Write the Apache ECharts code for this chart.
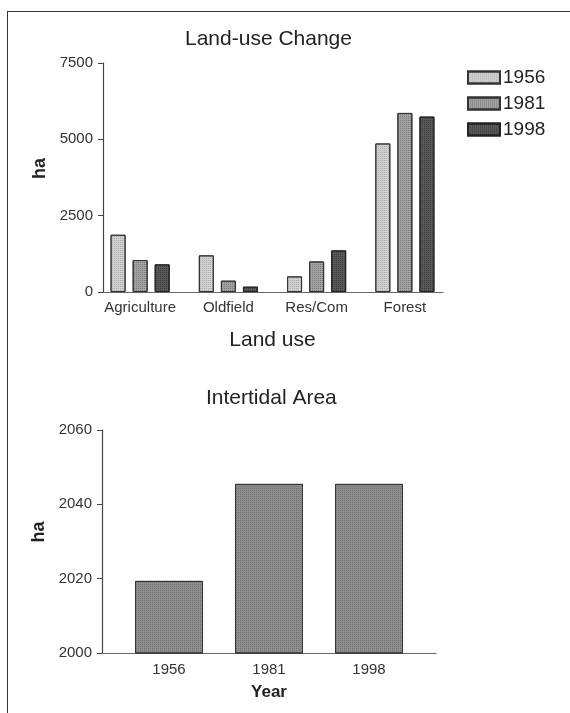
<!DOCTYPE html>
<html>
<head>
<meta charset="utf-8">
<script src="https://cdn.jsdelivr.net/npm/echarts@6/dist/echarts.min.js"></script>
<style>
html,body{margin:0;padding:0;background:#fff;}
#frame{position:absolute;left:7px;top:11px;right:-5px;bottom:-5px;border-left:1.5px solid #333;border-top:1.5px solid #333;}
#chart{position:absolute;left:0;top:0;width:570px;height:713px;}
</style>
</head>
<body>
<div id="frame"></div>
<div id="chart"></div>
<script>
// Land-use change (ha)
const landCategories = ['Agriculture', 'Oldfield', 'Res/Com', 'Forest'];
const landYears = ['1956', '1981', '1998'];
const land1956 = [1875, 1200, 512, 4865];
const land1981 = [1047, 370, 1000, 5865];
const land1998 = [905, 175, 1363, 5745];
const landTicks = [0, 2500, 5000, 7500];

// Intertidal area (ha)
const tidalYears = ['1956', '1981', '1998'];
const tidalValues = [2019.4, 2045.5, 2045.5];
const tidalTicks = [2000, 2020, 2040, 2060];

const FONT = 'Liberation Sans, Arial, sans-serif';
const fills = ['#d0d0d0', '#a2a2a2', '#585858'];
const decalFor = (c) => ({symbol: 'rect', symbolSize: 1, dashArrayX: [1, 1], dashArrayY: [1, 1], color: c});
const decals = ['rgba(110,110,110,0.35)', 'rgba(50,50,50,0.35)', 'rgba(10,10,10,0.35)'];

const chart = echarts.init(document.getElementById('chart'), null, {renderer: 'canvas'});

const labelStyle = {fontFamily: FONT, fontSize: 15, color: '#333'};
const plain = (v) => String(v);

const option = {
  animation: false,
  backgroundColor: 'transparent',
  title: [
    {text: 'Land-use Change', left: 185, top: 29, padding: 0,
     textStyle: {fontFamily: FONT, fontSize: 21, fontWeight: 'normal', color: '#222'}},
    {text: 'Intertidal Area', left: 206, top: 388, padding: 0,
     textStyle: {fontFamily: FONT, fontSize: 21, fontWeight: 'normal', color: '#222'}}
  ],
  legend: {
    data: landYears, orient: 'vertical', left: 467, top: 68, padding: 0,
    itemWidth: 32, itemHeight: 12, itemGap: 7,
    textStyle: {fontFamily: FONT, fontSize: 19, color: '#222', padding: [0, 0, 0, -2]},
    icon: 'rect'
  },
  grid: [
    {left: 103, top: 63, width: 340, height: 229},
    {left: 96, top: 63, width: 353, height: 229},
    {left: 102, top: 430, width: 334, height: 223},
    {left: 119, top: 430, width: 300, height: 223}
  ],
  xAxis: [
    {gridIndex: 0, type: 'category', data: landCategories, axisLine: {lineStyle: {color: '#666', width: 1.2}},
     axisTick: {show: false}, axisLabel: {show: false}},
    {gridIndex: 1, type: 'category', data: landCategories, axisLine: {show: false}, axisTick: {show: false},
     axisLabel: Object.assign({margin: 8, interval: 0}, labelStyle),
     name: 'Land use', nameLocation: 'middle', nameGap: 38,
     nameTextStyle: {fontFamily: FONT, fontSize: 21, color: '#222'}},
    {gridIndex: 2, type: 'category', data: tidalYears, axisLine: {lineStyle: {color: '#666', width: 1.2}},
     axisTick: {show: false}, axisLabel: {show: false}},
    {gridIndex: 3, type: 'category', data: tidalYears, axisLine: {show: false}, axisTick: {show: false},
     axisLabel: Object.assign({margin: 9}, labelStyle),
     name: 'Year', nameLocation: 'middle', nameGap: 31,
     nameTextStyle: {fontFamily: FONT, fontSize: 17, fontWeight: 'bold', color: '#222'}}
  ],
  yAxis: [
    {gridIndex: 0, type: 'value', min: landTicks[0], max: landTicks[landTicks.length - 1], interval: 2500,
     splitLine: {show: false}, axisLine: {show: true, lineStyle: {color: '#444', width: 1.2}},
     axisTick: {show: true, length: 5, lineStyle: {color: '#444'}},
     axisLabel: Object.assign({margin: 10, formatter: plain}, labelStyle),
     name: 'ha', nameLocation: 'middle', nameGap: 47,
     nameTextStyle: {fontFamily: FONT, fontSize: 18, fontWeight: 'bold', color: '#222', padding: [0, 0, 0, 18]}},
    {gridIndex: 1, type: 'value', min: landTicks[0], max: landTicks[landTicks.length - 1], show: false, splitLine: {show: false}},
    {gridIndex: 2, type: 'value', min: tidalTicks[0], max: tidalTicks[tidalTicks.length - 1], interval: 20,
     splitLine: {show: false}, axisLine: {show: true, lineStyle: {color: '#444', width: 1.2}},
     axisTick: {show: true, length: 5, lineStyle: {color: '#444'}},
     axisLabel: Object.assign({margin: 10, formatter: plain}, labelStyle),
     name: 'ha', nameLocation: 'middle', nameGap: 46,
     nameTextStyle: {fontFamily: FONT, fontSize: 18, fontWeight: 'bold', color: '#222', padding: [0, 0, 0, 19]}},
    {gridIndex: 3, type: 'value', min: tidalTicks[0], max: tidalTicks[tidalTicks.length - 1], show: false, splitLine: {show: false}}
  ],
  series: [
    {name: landYears[0], type: 'bar', xAxisIndex: 1, yAxisIndex: 1, data: land1956, barWidth: 15, barGap: '47%',
     itemStyle: {color: fills[0], borderColor: '#333', borderWidth: 1, decal: decalFor(decals[0])}},
    {name: landYears[1], type: 'bar', xAxisIndex: 1, yAxisIndex: 1, data: land1981, barWidth: 15, barGap: '47%',
     itemStyle: {color: fills[1], borderColor: '#333', borderWidth: 1, decal: decalFor(decals[1])}},
    {name: landYears[2], type: 'bar', xAxisIndex: 1, yAxisIndex: 1, data: land1998, barWidth: 15, barGap: '47%',
     itemStyle: {color: fills[2], borderColor: '#222', borderWidth: 1, decal: decalFor(decals[2])}},
    {name: 'Intertidal', type: 'bar', xAxisIndex: 3, yAxisIndex: 3, data: tidalValues, barWidth: 68,
     itemStyle: {color: '#8e8e8e', borderColor: '#333', borderWidth: 1, decal: decalFor('rgba(40,40,40,0.3)')}}
  ]
};
chart.setOption(option);
</script>
</body>
</html>
